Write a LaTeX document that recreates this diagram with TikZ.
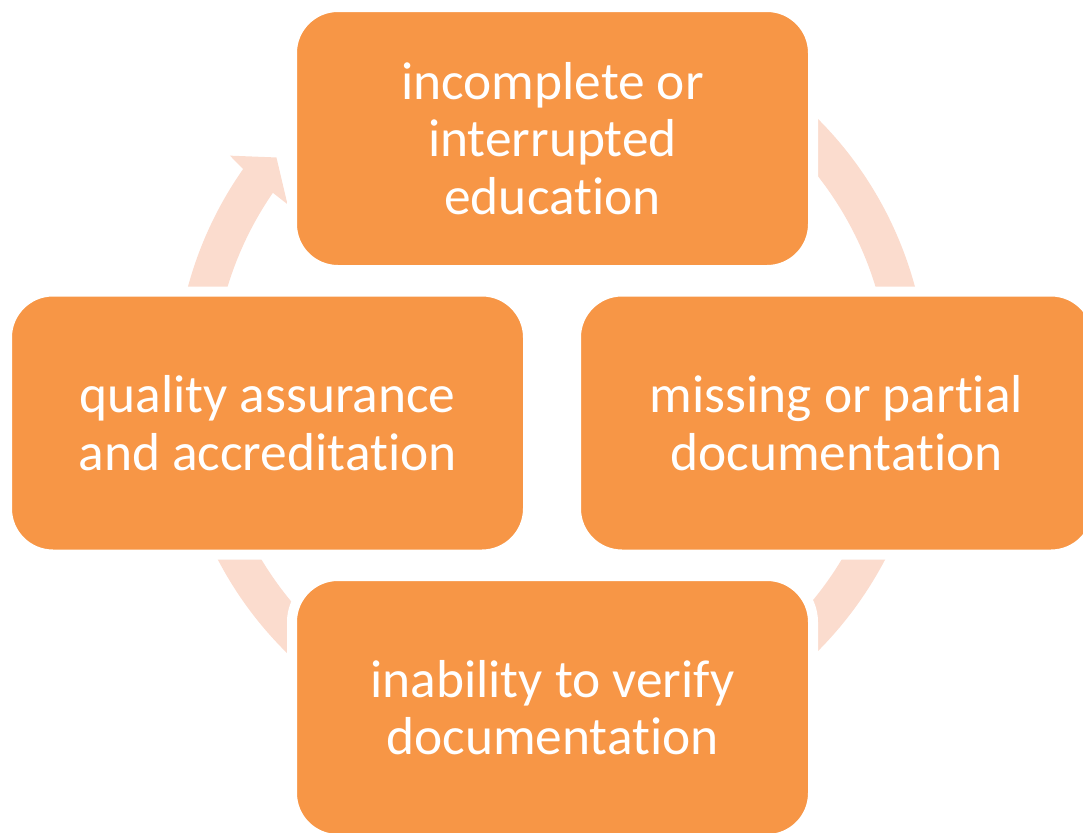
\documentclass[tikz,border=0pt]{standalone}
\usepackage{fontspec}
\setmainfont[Ligatures=NoCommon]{Carlito}
\definecolor{boxor}{HTML}{F79646}
\definecolor{ringc}{HTML}{FBDCCE}
\begin{document}
\begin{tikzpicture}[x=0.5pt,y=0.5pt,
  box/.style={rectangle, draw=white, line width=5pt, fill=boxor,
    rounded corners=23pt, minimum width=260.5pt, minimum height=131.5pt,
    inner sep=0pt, text=white, align=center,
    font=\fontsize{26.7}{28.8}\selectfont}]
\useasboundingbox (0,0) rectangle (1083,-832);
\coordinate (C) at (551.5,-385);
\fill[ringc] ([shift={(C)}]145:376.5) arc[start angle=145,end angle=485,radius=376.5]
  -- ([shift={(C)}]485:338.5) arc[start angle=485,end angle=145.4,radius=338.5]
  -- ([shift={(C)}]145.6:320) -- ([shift={(C)}]140.4:357)
  -- ([shift={(C)}]144.5:395) -- cycle;
\node[box] (ntop) at (552.5,-138.5) {incomplete or\\interrupted\\education};
\node[box] (nleft) at (267.5,-423) {quality assurance\\and accreditation};
\node[box] (nright) at (836.5,-423) {missing or partial\\documentation};
\node[box] (nbot) at (552.5,-707.5) {inability to verify\\documentation};
\end{tikzpicture}
\end{document}
